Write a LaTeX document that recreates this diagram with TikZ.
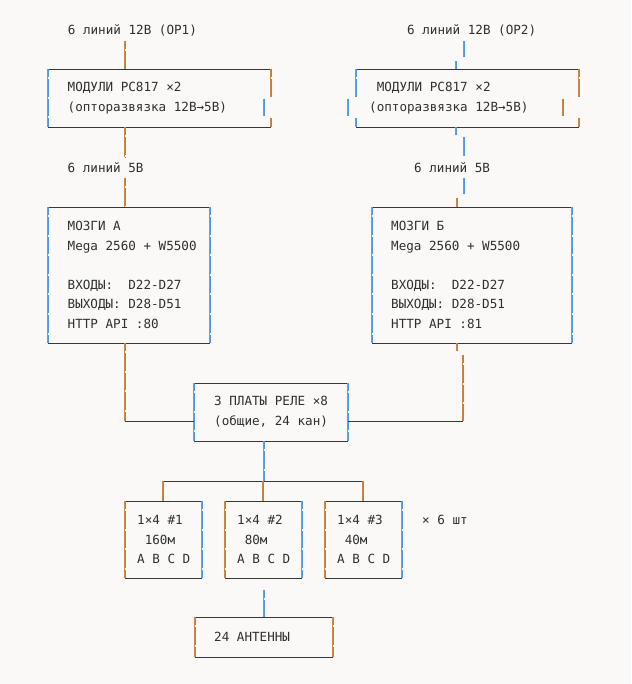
\documentclass[tikz,border=0pt]{standalone}
\usepackage{fontspec}
\newfontfamily\codefont{DejaVu Sans Mono}
\usetikzlibrary{positioning}
\definecolor{bg}{HTML}{FAF9F7}
\definecolor{ink}{HTML}{303030}
\definecolor{edge}{HTML}{383838}
\definecolor{ora}{HTML}{CD8746}
\definecolor{blu}{HTML}{4F98E3}
\tikzset{
  txt/.style={inner sep=0pt,align=left,text=ink,font=\codefont\fontsize{12.6pt}{19.6pt}\selectfont\frenchspacing},
  box/.style 2 args={rectangle,inner sep=0pt,outer sep=0pt,minimum width=#1,minimum height=#2},
  hline/.style={draw=edge,line width=0.9pt},
  vbar/.style={draw=blu,line width=0.9pt,preaction={draw=ora,transform canvas={xshift=-0.9pt}}},
  gaps/.style={dash pattern=on 17.6pt off 2pt,dash phase=9.6pt}
}
\begin{document}
\begin{tikzpicture}[x=1pt,y=-1pt]
\useasboundingbox[fill=bg] (0,0) rectangle (631,684);

% inputs
\node[txt,anchor=west] (t1) at (67.7,30) {6 линий 12В (ОР1)};
\node[txt,anchor=west] (t2) at (407,30) {6 линий 12В (ОР2)};

% optocouplers
\node[box={223pt}{58pt}] (m1) at (159.5,98) {};
\node[txt,right=19.5pt of m1.west] (m1t) {МОДУЛИ PC817 ×2\\(опторазвязка 12В→5В)};
\node[box={223pt}{58pt}] (m2) at (467.5,98) {};
\node[txt,right=13pt of m2.west] (m2t) {\hspace*{7.6pt}МОДУЛИ PC817 ×2\\(опторазвязка 12В→5В)};

\node[txt,anchor=west] (l1) at (67.5,168) {6 линий 5В};
\node[txt,anchor=west] (l2) at (414,168) {6 линий 5В};

% controllers
\node[box={162pt}{136pt}] (ma) at (129,275) {};
\node[txt,right=19.5pt of ma.west] (mat) {МОЗГИ А\\Mega 2560 + W5500\\[19.6pt]ВХОДЫ:\ \ D22-D27\\ВЫХОДЫ: D28-D51\\HTTP API :80};
\node[box={200pt}{136pt}] (mb) at (472,275) {};
\node[txt,right=19pt of mb.west] (mbt) {МОЗГИ Б\\Mega 2560 + W5500\\[19.6pt]ВХОДЫ:\ \ D22-D27\\ВЫХОДЫ: D28-D51\\HTTP API :81};

% relays
\node[box={154pt}{58pt}] (rel) at (271,412) {};
\node[txt,right=20pt of rel.west] (relt) {3 ПЛАТЫ РЕЛЕ ×8\\(общие, 24 кан)};

% splitters
\node[box={77pt}{77pt}] (c1) at (163.5,539.5) {};
\node[txt,right=12pt of c1.west] (c1t) {1×4 \#1\\\hspace*{7.6pt}160м\\A B C D};
\node[box={77pt}{77pt}] (c2) at (263.5,539.5) {};
\node[txt,right=12pt of c2.west] (c2t) {1×4 \#2\\\hspace*{7.6pt}80м\\A B C D};
\node[box={77pt}{77pt}] (c3) at (363.5,539.5) {};
\node[txt,right=12pt of c3.west] (c3t) {1×4 \#3\\\hspace*{7.6pt}40м\\A B C D};
\node[txt,anchor=west] (x6) at (422,520) {× 6 шт};

\node[box={138pt}{40pt}] (ant) at (264,637) {};
\node[txt,right=19pt of ant.west] (antt) {24 АНТЕННЫ};

% frames
\foreach \b in {ma,mb,rel,c1,c2,c3,ant}{
  \draw[hline] (\b.north west) -- (\b.north east) (\b.south west) -- (\b.south east);
  \draw[vbar,gaps] (\b.north west) -- (\b.south west) (\b.north east) -- (\b.south east);
}
\draw[hline] (m1.north west) -- (m1.north east) (m1.south west) -- (m1.south east);
\draw[vbar,gaps] (m1.north west) -- (m1.south west);
\draw[vbar,gaps] (m1.north east) -- ([yshift=-28pt]m1.north east);
\draw[vbar] ([xshift=-7pt,yshift=-30pt]m1.north east) -- ([xshift=-7pt,yshift=-47pt]m1.north east);
\draw[vbar] ([yshift=9pt]m1.south east) -- (m1.south east);
\draw[hline] (m2.north west) -- (m2.north east) (m2.south west) -- (m2.south east);
\draw[vbar,gaps] (m2.north west) -- ([yshift=-28pt]m2.north west);
\draw[vbar] ([xshift=-8pt,yshift=-30pt]m2.north west) -- ([xshift=-8pt,yshift=-47pt]m2.north west);
\draw[vbar] ([yshift=9pt]m2.south west) -- (m2.south west);
\draw[vbar,gaps] (m2.north east) -- ([yshift=-28pt]m2.north east);
\draw[vbar] ([xshift=-16pt,yshift=-30pt]m2.north east) -- ([xshift=-16pt,yshift=-47pt]m2.north east);
\draw[vbar] ([yshift=9pt]m2.south east) -- (m2.south east);

% left chain
\coordinate (a0) at (125,41);
\coordinate (a1) at (125,157);
\coordinate (a2) at (125,178);
\coordinate (ja) at ([yshift=-9pt]rel.west);
\draw[vbar,gaps] (a0) -- (a0 |- m1.north);
\draw[vbar,gaps] (a0 |- m1.south) -- (a1);
\draw[vbar,gaps] (a2) -- (a2 |- ma.north);
\draw[vbar,gaps] (a2 |- ma.south) -- (a2 |- ja);
\draw[hline] (a2 |- ja) -- (ja);

% right chain
\coordinate (b0) at (464,41);
\coordinate (b1) at (464,57);
\coordinate (b2) at (456,61);
\coordinate (b3) at (456,135);
\coordinate (b4) at (464,137);
\coordinate (b5) at (464,156);
\coordinate (b6) at (464,178);
\coordinate (b7) at (464,194);
\coordinate (b8) at (457,198);
\coordinate (b9) at (457,351);
\coordinate (b10) at (463,355);
\coordinate (jb) at ([yshift=-9pt]rel.east);
\draw[vbar] (b0) -- (b1);
\draw[vbar] (b2) -- (b2 |- m2.north);
\draw[vbar] (b2 |- m2.south) -- (b3);
\draw[vbar] (b4) -- (b5);
\draw[vbar] (b6) -- (b7);
\draw[vbar] (b8) -- (b8 |- mb.north);
\draw[vbar] (b8 |- mb.south) -- (b9);
\draw[vbar,gaps] (b10) -- (b10 |- jb);
\draw[hline] (b10 |- jb) -- (jb);

% relays to splitters
\coordinate (hub) at (264,481);
\draw[vbar,gaps] (hub |- rel.south) -- (hub);
\draw[hline] (c1.north |- hub) -- (c3.north |- hub);
\foreach \c in {c1,c2,c3}
  \draw[vbar] (\c.north |- hub) -- (\c.north);

\coordinate (d0) at (264,590);
\draw[vbar,gaps] (d0) -- (ant.north);
\end{tikzpicture}
\end{document}
